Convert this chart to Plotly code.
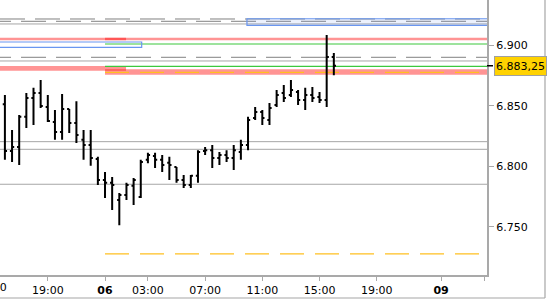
import plotly.graph_objects as go

# ---- data: 30-minute OHLC bars (bar index along a session-compressed time axis) ----
bar_index = list(range(47))
opens = [6851.5, 6812.75, 6816.0, 6841.0, 6856.5, 6860.75, 6849.25, 6836.75, 6828.5, 6847.5,
         6836.0, 6822.0, 6817.75, 6806.25, 6788.75, 6786.5, 6772.25, 6776.5, 6784.0, 6774.75,
         6805.5, 6808.75, 6805.5, 6803.0, 6799.5, 6788.75, 6784.75, 6792.25, 6812.75, 6813.5,
         6807.0, 6809.5, 6807.0, 6812.0, 6817.75, 6840.0, 6845.0, 6838.5, 6850.75, 6860.75,
         6859.0, 6861.5, 6855.0, 6859.0, 6857.5, 6855.0, 6890.5]
highs = [6859.0, 6830.25, 6842.5, 6860.75, 6865.0, 6871.5, 6859.0, 6846.75, 6860.0, 6847.5,
         6854.0, 6830.25, 6830.25, 6808.0, 6795.5, 6791.25, 6778.0, 6786.5, 6790.5, 6805.5,
         6811.25, 6811.25, 6809.5, 6808.0, 6799.5, 6793.0, 6793.0, 6813.5, 6816.0, 6817.75,
         6812.0, 6813.5, 6817.75, 6822.0, 6841.0, 6849.25, 6846.75, 6852.5, 6863.25, 6867.25,
         6871.5, 6863.25, 6865.0, 6865.75, 6861.5, 6908.75, 6893.75]
lows = [6805.5, 6803.75, 6801.25, 6831.75, 6834.25, 6848.25, 6836.75, 6822.0, 6822.0, 6827.75,
        6819.5, 6805.5, 6800.5, 6784.75, 6774.0, 6764.0, 6751.5, 6772.25, 6768.25, 6774.0,
        6802.75, 6798.75, 6795.5, 6788.75, 6786.5, 6782.25, 6782.25, 6786.5, 6809.5, 6798.75,
        6801.25, 6803.75, 6797.0, 6805.5, 6813.5, 6838.5, 6834.25, 6834.25, 6849.25, 6853.25,
        6857.5, 6850.75, 6846.75, 6853.25, 6852.5, 6849.25, 6875.5]
closes = [6812.75, 6816.0, 6841.0, 6856.5, 6860.75, 6850.0, 6837.5, 6828.5, 6847.5, 6836.0,
          6826.0, 6817.75, 6807.0, 6788.75, 6786.5, 6784.75, 6776.5, 6784.75, 6788.75, 6803.75,
          6809.5, 6805.5, 6801.25, 6801.25, 6788.75, 6784.75, 6792.25, 6812.0, 6813.5, 6807.0,
          6809.5, 6807.0, 6813.5, 6817.75, 6838.5, 6845.0, 6840.0, 6848.25, 6859.0, 6856.5,
          6863.25, 6855.0, 6859.0, 6856.5, 6855.0, 6890.5, 6883.25]

# time-axis ticks (in bar-index units)
tick_positions = [6, 14, 20, 28, 36, 44, 52, 61, 67]
tick_labels = ["19:00", "<b>06</b>", "03:00", "07:00", "11:00", "15:00", "19:00", "<b>09</b>", ""]
cut_tick_position = -2
cut_tick_label = "15:00"

price_ticks = [6750, 6800, 6850, 6900]
price_tick_labels = ["6.750", "6.800", "6.850", "6.900"]
current_price_label = "6.883,25"

# horizontal levels
gray_solid_levels = [6917.8, 6887.2, 6820.5, 6814.2, 6785.3]
gray_dashed_levels = [6921.9, 6920.0, 6890.25]
gray_dashed_starts = [-0.685, -2.64, -2.64]
blue_zone_top = [6922.1, 6916.7]          # filled box, from bar 33.85 to the right
blue_zone_top_start = 33.85
blue_box_prev = [6902.9, 6898.5]          # outline box, left edge to bar 19.1
blue_box_prev_end = 19.13
red_zones_prev = [[6904.3, 6906.45], [6879.17, 6883.06]]   # left edge to bar 17
red_zones_prev_end = 16.94
red_zones_cur = [[6904.3, 6906.45], [6875.87, 6880.33]]    # from bar 14 on
green_levels_cur = [6901.24, 6882.8]
orange_levels_cur = [6877.85, 6727.7]
cur_start = 14

x_range = [-0.685, 67.42]
y_range = [6710.3, 6937.6]

fig = go.Figure()
fig.add_trace(go.Ohlc(
    x=bar_index, open=opens, high=highs, low=lows, close=closes,
    increasing=dict(line=dict(color="black", width=2)),
    decreasing=dict(line=dict(color="black", width=2)),
    tickwidth=0.3, hoverinfo="skip", showlegend=False,
))

shapes = []
XR = 70
for lv in gray_solid_levels:
    shapes.append(dict(type="line", xref="x", yref="y", x0=-3, x1=XR, y0=lv, y1=lv,
                       line=dict(color="#A6A6A6", width=1), layer="below"))
for lv, st in zip(gray_dashed_levels, gray_dashed_starts):
    shapes.append(dict(type="line", xref="x", yref="y", x0=st, x1=XR, y0=lv, y1=lv,
                       line=dict(color="#808080", width=1, dash="25px,10px"), layer="below"))
for band in red_zones_prev:
    shapes.append(dict(type="rect", xref="x", yref="y", x0=-3, x1=red_zones_prev_end,
                       y0=band[0], y1=band[1], line=dict(width=0),
                       fillcolor="rgba(255,0,0,0.42)", layer="below"))
for band in red_zones_cur:
    shapes.append(dict(type="rect", xref="x", yref="y", x0=cur_start, x1=XR,
                       y0=band[0], y1=band[1], line=dict(width=0),
                       fillcolor="rgba(255,0,0,0.42)", layer="below"))
for lv in green_levels_cur:
    shapes.append(dict(type="line", xref="x", yref="y", x0=cur_start, x1=XR, y0=lv, y1=lv,
                       line=dict(color="#3CC83C", width=1.2), layer="below"))
for lv in orange_levels_cur:
    shapes.append(dict(type="line", xref="x", yref="y", x0=cur_start, x1=XR, y0=lv, y1=lv,
                       line=dict(color="#FFC020", width=1.2, dash="24px,11px"), layer="below"))
shapes.append(dict(type="rect", xref="x", yref="y", x0=blue_zone_top_start, x1=XR,
                   y0=blue_zone_top[1], y1=blue_zone_top[0],
                   line=dict(color="#6A96F0", width=1.2), fillcolor="rgba(110,150,240,0.13)",
                   layer="below"))
shapes.append(dict(type="rect", xref="x", yref="y", x0=-3, x1=blue_box_prev_end,
                   y0=blue_box_prev[1], y1=blue_box_prev[0],
                   line=dict(color="#6A96F0", width=1.2), fillcolor="rgba(0,0,0,0)",
                   layer="below"))
# current price marker tick on the right axis
shapes.append(dict(type="line", xref="paper", yref="y", x0=1.0, x1=493 / 487,
                   y0=closes[-1], y1=closes[-1], line=dict(color="black", width=1.5),
                   layer="above"))
# outer frame (right and bottom)
shapes.append(dict(type="line", xref="paper", yref="paper", x0=545 / 487, x1=545 / 487,
                   y0=1.01, y1=-23 / 275, line=dict(color="#A6A6A6", width=1.2), layer="above"))
shapes.append(dict(type="line", xref="paper", yref="paper", x0=-0.01, x1=545 / 487,
                   y0=-23 / 275, y1=-23 / 275, line=dict(color="#A6A6A6", width=1.2),
                   layer="above"))

# paper position of the clipped tick label at the left edge
px_per_bar = 487 / (x_range[1] - x_range[0])
cut_paper_x = (cut_tick_position - x_range[0]) * px_per_bar / 487

annotations = [
    dict(xref="paper", yref="y", x=494 / 487, y=closes[-1], xanchor="left", yanchor="middle",
         text=current_price_label, showarrow=False, bgcolor="#FFD200",
         bordercolor="#A0A0A0", borderwidth=1, borderpad=1, width=49, height=16,
         font=dict(family="DejaVu Sans", size=11, color="black")),
    dict(xref="paper", yref="paper", x=cut_paper_x, y=-12 / 275, xanchor="center",
         yanchor="middle", text=cut_tick_label, showarrow=False,
         font=dict(family="DejaVu Sans", size=11, color="black")),
]

fig.update_layout(
    width=550, height=300, autosize=False,
    margin=dict(l=0, r=63, t=0, b=25, pad=0),
    paper_bgcolor="white", plot_bgcolor="white",
    shapes=shapes, annotations=annotations, showlegend=False,
    font=dict(family="DejaVu Sans", size=11, color="black"),
    xaxis=dict(range=x_range, rangeslider=dict(visible=False), showgrid=False,
               zeroline=False, showline=True, linecolor="#A9A9A9", linewidth=2,
               tickmode="array", tickvals=tick_positions, ticktext=tick_labels,
               ticks="outside", ticklen=4, tickcolor="#A9A9A9", tickwidth=1,
               tickfont=dict(family="DejaVu Sans", size=11, color="black")),
    yaxis=dict(range=y_range, side="right", showgrid=False, zeroline=False,
               showline=True, linecolor="#A9A9A9", linewidth=2,
               tickmode="array", tickvals=price_ticks, ticktext=price_tick_labels,
               ticks="outside", ticklen=5, tickcolor="#A9A9A9", tickwidth=1,
               tickfont=dict(family="DejaVu Sans", size=11, color="black")),
)

fig.write_html("out.html")
